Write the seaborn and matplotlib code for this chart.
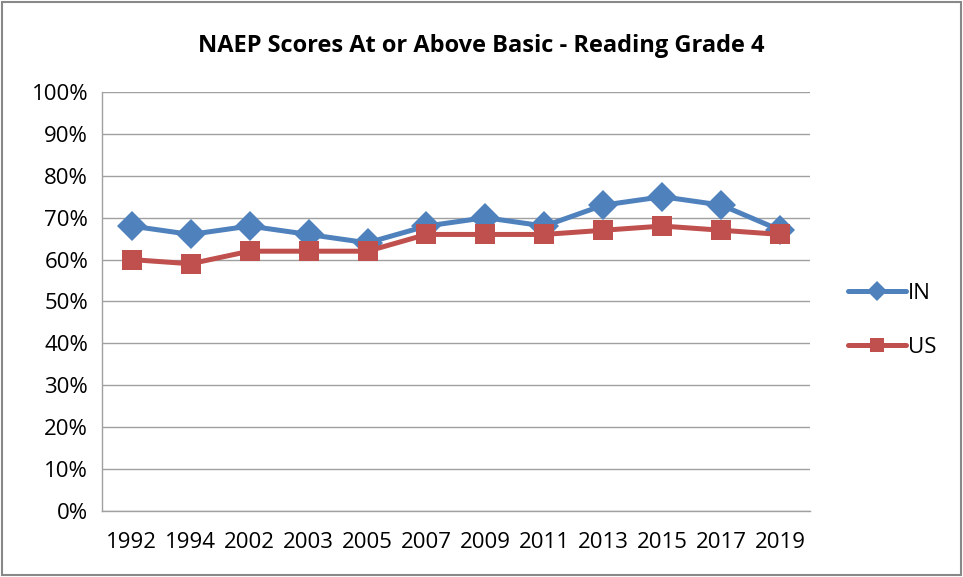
import matplotlib
matplotlib.use("Agg")
import matplotlib.pyplot as plt
import matplotlib.patches as mpatches
from matplotlib.ticker import FixedLocator, FuncFormatter
from matplotlib.lines import Line2D
import seaborn as sns
import pandas as pd

years = ["1992", "1994", "2002", "2003", "2005", "2007", "2009", "2011", "2013", "2015", "2017", "2019"]
in_scores = [68, 66, 68, 66, 64, 68, 70, 68, 73, 75, 73, 67]
us_scores = [60, 59, 62, 62, 62, 66, 66, 66, 67, 68, 67, 66]

sns.set_theme(style="white")
plt.rcParams['font.family'] = ['Open Sans', 'DejaVu Sans']
plt.rcParams['text.color'] = 'black'
plt.rcParams['xtick.color'] = 'black'
plt.rcParams['ytick.color'] = 'black'

df = pd.DataFrame({
    "pos": list(range(len(years))) * 2,
    "score": in_scores + us_scores,
    "series": ["IN"] * len(years) + ["US"] * len(years),
})

fig = plt.figure(figsize=(9.63, 5.77), dpi=100)
ax = fig.add_axes([0.106, 0.1144, 0.735, 0.7262])

palette = {"IN": "#4F81BD", "US": "#C0504D"}
sns.lineplot(data=df[df.series == "IN"], x="pos", y="score", color=palette["IN"],
             marker="D", linewidth=3.6, markersize=15, markeredgewidth=0, ax=ax)
sns.lineplot(data=df[df.series == "US"], x="pos", y="score", color=palette["US"],
             marker="s", linewidth=3.6, markersize=15, markeredgewidth=0, ax=ax)

ax.set_xlim(-0.5, len(years) - 0.5)
ax.set_ylim(0, 100)
ax.yaxis.set_major_locator(FixedLocator(range(0, 101, 10)))
ax.yaxis.set_major_formatter(FuncFormatter(lambda v, p: f"{int(v)}%"))
ax.grid(axis="y", color="#A0A0A0", linewidth=1.0)
ax.set_axisbelow(True)

ax.set_xticks(range(len(years)))
ax.set_xticklabels(years)
ax.set_xticks([i - 0.5 for i in range(len(years) + 1)], minor=True)
ax.tick_params(axis="x", which="major", length=0, pad=15, labelsize=16, labelcolor="black")
ax.tick_params(axis="x", which="minor", length=7, width=1, color="#A0A0A0", direction="out")
ax.tick_params(axis="y", which="major", length=6, width=1, color="#A0A0A0", direction="out",
               labelsize=16, pad=4, labelcolor="black")
ax.set_xlabel("")
ax.set_ylabel("")

for s in ["top", "right"]:
    ax.spines[s].set_visible(False)
for s in ["left", "bottom"]:
    ax.spines[s].set_color("#A0A0A0")
    ax.spines[s].set_linewidth(1.0)

handles = [
    Line2D([0], [0], color=palette["IN"], marker="D", markersize=10, linewidth=3.6, markeredgewidth=0),
    Line2D([0], [0], color=palette["US"], marker="s", markersize=10, linewidth=3.6, markeredgewidth=0),
]
fig.legend(handles, ["IN", "US"], loc="center left", bbox_to_anchor=(0.86, 0.445),
           frameon=False, fontsize=16, handlelength=2.6, handletextpad=0.1, labelspacing=1.5)

fig.text(0.5, 0.92, "NAEP Scores At or Above Basic - Reading Grade 4",
         ha="center", va="center", fontsize=17, fontweight="bold", color="black")

fig.patches.append(mpatches.Rectangle((0.002, 0.003), 0.996, 0.994, transform=fig.transFigure,
                                      fill=False, edgecolor="#888888", linewidth=1.5))

fig.savefig("out.png", dpi=100)
